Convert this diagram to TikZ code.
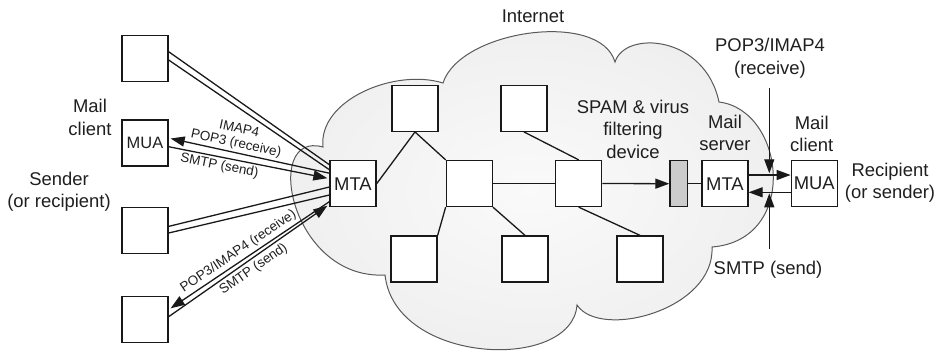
\documentclass[tikz,border=0pt]{standalone}
\usepackage{fontspec}
\setmainfont{Liberation Sans}
\usetikzlibrary{arrows.meta,calc}
\pgfdeclareradialshading{cloudshade}{\pgfpoint{0bp}{0bp}}{color(0bp)=(black!2); color(22bp)=(black!6); color(50bp)=(black!17)}
\begin{document}
\begin{tikzpicture}[x=1bp,y=-1bp,
  every node/.style={text=black!88},
  box/.style={draw=black!90, fill=white, line width=1.3bp, minimum width=46bp, minimum height=46bp, inner sep=0pt, font=\fontsize{18.5}{22}\selectfont},
  lbl/.style={font=\fontsize{18.5}{22.5}\selectfont, align=center, inner sep=0pt},
  sml/.style={font=\fontsize{13.5}{14.5}\selectfont, align=center, inner sep=2bp, sloped},
  ln/.style={line width=1.3bp, draw=black!90},
  arr/.style={ln, -{Triangle[length=14bp,width=10bp]}},
  rarr/.style={ln, {Triangle[length=14bp,width=10bp]}-},
]
\useasboundingbox (0,0) rectangle (939,352);

% cloud
\path[draw=black!65, line width=1bp, shading=cloudshade]
  (323,147) .. controls (318,100) and (395,68) .. (443,83)
  .. controls (460,30) and (600,10) .. (615,62)
  .. controls (625,30) and (705,35) .. (719,102)
  .. controls (785,110) and (800,240) .. (712,247)
  .. controls (715,310) and (600,340) .. (577,305)
  .. controls (572,372) and (395,365) .. (385,275)
  .. controls (290,280) and (262,130) .. (323,147) -- cycle;

% boxes
\node[box] (l1) at (145,58.7) {};
\node[box, font=\fontsize{16.5}{20}\selectfont] (mua1) at (145,143) {MUA};
\node[box] (l3) at (145,230.7) {};
\node[box] (l4) at (145,319.7) {};
\node[box] (mta1) at (353,183.7) {MTA};
\node[box] (a) at (415,108.3) {};
\node[box] (b) at (524,108.3) {};
\node[box] (c) at (469.3,183.5) {};
\node[box] (d) at (578.7,183.5) {};
\node[box] (e) at (414,259) {};
\node[box] (f) at (525,259) {};
\node[box] (g) at (640,259) {};
\node[draw=black!90, fill=black!20, line width=1.3bp, minimum width=17.5bp, minimum height=46bp, inner sep=0pt] (flt) at (678.7,183.7) {};
\node[box] (mta2) at (725,183.7) {MTA};
\node[box] (mua2) at (814.3,183.7) {MUA};

% left connectors
\draw[ln] ($(l1.east)+(0,-7)$) -- ($(mta1.west)+(0,-19)$);
\draw[ln] ($(l1.east)+(0,1.3)$) -- ($(mta1.west)+(0,-14)$);
\draw[rarr] ($(mua1.east)+(2,-4.5)$) -- node[sml, above, pos=0.4] {IMAP4\\POP3 (receive)} ($(mta1.west)+(0,-10.5)$);
\draw[arr] ($(mua1.east)+(0,3.7)$) -- node[sml, below, pos=0.33] {SMTP (send)} ($(mta1.west)+(-2,-5.5)$);
\draw[ln] ($(l3.east)+(0,-4.3)$) -- ($(mta1.west)+(0,3.3)$);
\draw[ln] ($(l3.east)+(0,2.3)$) -- ($(mta1.west)+(0,11.3)$);
\draw[rarr] ($(l4.east)+(2,-11.4)$) -- node[sml, above, inner sep=2.5bp, pos=0.46] {POP3/IMAP4 (receive)} ($(mta1.west)+(0,18)$);
\draw[arr] ($(l4.east)+(0,-3)$) -- node[sml, below, inner sep=3bp, pos=0.5] {SMTP (send)} ($(mta1.west)+(-2,22)$);

% internet connectors
\draw[ln] (mta1.east) -- (a.south);
\draw[ln] (a.south) -- (c.north west);
\draw[ln] (c.south west) -- (e.north east);
\draw[ln] (c.south east) -- (f.north);
\draw[ln] (c.east) -- (d.west);
\draw[ln] (b.south) -- (d.north);
\draw[ln] (d.south) -- (g.north);
\draw[arr] (d.east) -- (flt.west);
\draw[ln] (flt.east) -- (mta2.west);

% recipient side
\draw[arr] ($(mta2.east)+(0,-8.7)$) -- ($(mua2.west)+(0,-8.7)$);
\draw[arr] ($(mua2.west)+(0,8.6)$) -- ($(mta2.east)+(0,8.6)$);
\coordinate (vt) at (769.3,88);
\coordinate (vb) at (769.3,249);
\coordinate (t1) at ($(mta2.east)+(0,-10.4)$);
\coordinate (t2) at ($(mta2.east)+(0,9.6)$);
\draw[arr] (vt) -- (vt |- t1);
\draw[arr] (vb) -- (vb |- t2);

% labels
\node[lbl] (internet) at (533,16.7) {Internet};
\node[lbl] (mc1) at (90,117.5) {Mail\\client};
\node[lbl] (snd) at (59,191.7) {Sender\\(or recipient)};
\node[lbl] (spam) at (633,129) {SPAM \& virus\\filtering\\device};
\node[lbl] (ms) at (725,133) {Mail\\server};
\node[lbl] (mc2) at (811.7,134) {Mail\\client};
\node[lbl] (pop) at (770,58.3) {POP3/IMAP4\\(receive)};
\node[lbl] (rcp) at (890,182.5) {Recipient\\(or sender)};
\node[lbl] (smtp) at (768,269.3) {SMTP (send)};
\end{tikzpicture}
\end{document}
